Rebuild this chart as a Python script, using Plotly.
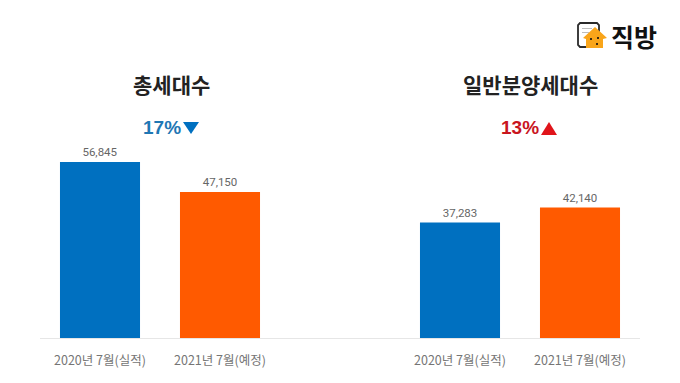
import plotly.graph_objects as go

positions = [0, 1, 3, 4]
tick_labels = ["2020년 7월(실적)", "2021년 7월(예정)", "2020년 7월(실적)", "2021년 7월(예정)"]
values = [56845, 47150, 37283, 42140]
value_labels = ["56,845", "47,150", "37,283", "42,140"]
bar_colors = ["#0070C0", "#FF5A00", "#0070C0", "#FF5A00"]

W, H = 680, 383
L, R, T, B = 40, 640, 20, 338
FONT = "Noto Sans CJK KR"

def px(x):
    return (x - L) / (R - L)

def py(y):
    return (B - y) / (B - T)

fig = go.Figure(go.Bar(
    x=positions, y=values, width=0.667, marker=dict(color=bar_colors, line_width=0),
    text=value_labels, textposition="outside", cliponaxis=False,
    textfont=dict(family="Roboto, " + FONT, size=11.5, color="#666666"),
))

def note(x, y, text, size, color, weight="bold", family=FONT):
    fig.add_annotation(xref="paper", yref="paper", x=px(x), y=py(y), text=text,
                       showarrow=False, xanchor="center", yanchor="middle",
                       font=dict(family=family, size=size, color=color, weight=weight))

note(171.5, 84, "총세대수", 21, "#222222", "bold")
note(530, 84, "일반분양세대수", 21, "#222222", "bold")
note(162, 127, "17%", 19, "#1F77B4", "bold", "Liberation Sans")
note(520, 127, "13%", 19, "#C9151E", "bold", "Liberation Sans")
note(633.5, 36, "직방", 25, "#111111", "bold")

def path(points, fill, line=None, width=0):
    d = "M" + " L".join(f"{px(a):.5f},{py(b):.5f}" for a, b in points) + " Z"
    fig.add_shape(type="path", xref="paper", yref="paper", path=d, fillcolor=fill,
                  line=dict(color=line or fill, width=width), layer="above")

path([(183, 122), (199, 122), (191, 134)], "#0070C0")
path([(541, 135), (557, 135), (549, 122)], "#E0141A")
# logo
path([(580, 23), (597, 23), (599, 25), (599, 45), (597, 47), (580, 47), (578, 45), (578, 25)],
     "#FFFFFF", "#2A2A2A", 1.8)
path([(582, 28), (592, 28), (592, 29), (582, 29)], "#BDBDBD")
path([(582, 32), (589, 32), (589, 33), (582, 33)], "#BDBDBD")
path([(583, 38), (595, 27), (607, 38), (603, 39), (603, 48), (586, 48), (586, 39)], "#F9A51A")
path([(590, 38), (592, 38), (592, 40), (590, 40)], "#3A2A10")
path([(597, 37), (599, 37), (599, 39), (597, 39)], "#3A2A10")
path([(596, 43), (598, 43), (598, 45), (596, 45)], "#3A2A10")

fig.update_layout(
    width=W, height=H, showlegend=False, paper_bgcolor="white", plot_bgcolor="white",
    margin=dict(l=L, r=W - R, t=T, b=H - B), autosize=False,
    font=dict(family=FONT),
    xaxis=dict(range=[-0.5, 4.5], tickvals=positions, ticktext=tick_labels, showgrid=False,
               zeroline=False, showline=True, linecolor="#E6E6E6", linewidth=1, ticks="",
               ticklabelstandoff=11,
               tickfont=dict(family=FONT, size=12.5, color="#757575")),
    yaxis=dict(range=[0, 56845 * 318 / 176], visible=False, showgrid=False, zeroline=False),
)
fig.write_html("out.html", config={"displayModeBar": False},
               post_script="document.body.style.margin='0';")
